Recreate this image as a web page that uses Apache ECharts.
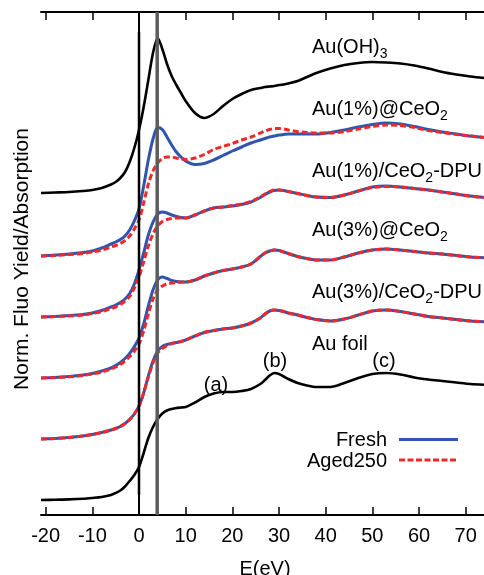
<!DOCTYPE html>
<html>
<head>
<meta charset="utf-8">
<script src="https://cdn.jsdelivr.net/npm/echarts@6/dist/echarts.min.js"></script>
<style>html,body{margin:0;padding:0;background:#fff;}#c{width:484px;height:575px;}</style>
</head>
<body>
<div id="c"></div>
<script>
// Energy grid (eV)
var energy = [-21,-18,-15,-12,-10,-8,-6,-5,-4,-3,-2,-1,0,1,2,3,4,5,6,7,8,9,10,12,14,16,18,20,22,24,26,27,28,29,30,31,32,34,36,38,41,44,47,50,53,56,59,62,65,68,71,75];
// Normalized spectra
var auOH3        = [0,0.005,0.01,0.02,0.03,0.05,0.085,0.11,0.15,0.21,0.31,0.45,0.63,0.86,1.13,1.40,1.55,1.44,1.29,1.17,1.08,1.00,0.92,0.80,0.75,0.79,0.87,0.94,0.99,1.03,1.05,1.06,1.065,1.07,1.08,1.085,1.095,1.12,1.16,1.20,1.245,1.28,1.30,1.31,1.305,1.295,1.275,1.245,1.21,1.185,1.165,1.145];
var au1At_fresh  = [0,0.01,0.02,0.035,0.05,0.08,0.12,0.14,0.165,0.20,0.26,0.35,0.47,0.70,0.96,1.17,1.285,1.265,1.19,1.11,1.04,0.99,0.95,0.915,0.925,0.96,1.005,1.05,1.09,1.13,1.16,1.175,1.19,1.20,1.21,1.215,1.22,1.22,1.22,1.22,1.235,1.26,1.29,1.315,1.33,1.32,1.295,1.265,1.24,1.22,1.20,1.18];
var au1At_aged   = [0,0.005,0.015,0.025,0.04,0.06,0.09,0.105,0.125,0.155,0.20,0.27,0.36,0.53,0.72,0.85,0.93,0.975,0.99,0.99,0.98,0.97,0.965,0.98,1.015,1.065,1.095,1.125,1.16,1.19,1.23,1.25,1.265,1.275,1.275,1.27,1.26,1.245,1.235,1.23,1.23,1.245,1.27,1.295,1.31,1.305,1.285,1.255,1.235,1.215,1.20,1.18];
var au1Dpu_fresh = [0,0.005,0.015,0.025,0.04,0.065,0.10,0.12,0.145,0.18,0.235,0.33,0.47,0.64,0.82,0.95,1.03,1.05,1.04,1.02,1.005,0.995,0.99,1.02,1.06,1.09,1.10,1.11,1.125,1.15,1.195,1.225,1.25,1.265,1.27,1.265,1.255,1.235,1.215,1.20,1.195,1.22,1.26,1.30,1.31,1.30,1.285,1.27,1.25,1.23,1.21,1.19];
var au1Dpu_aged  = [0,0.005,0.01,0.02,0.035,0.055,0.085,0.10,0.125,0.16,0.205,0.29,0.40,0.55,0.71,0.83,0.91,0.955,0.975,0.985,0.99,0.99,0.99,1.02,1.06,1.09,1.10,1.115,1.13,1.155,1.20,1.23,1.255,1.27,1.27,1.265,1.255,1.235,1.215,1.20,1.195,1.22,1.26,1.295,1.305,1.30,1.285,1.27,1.25,1.23,1.21,1.19];
var au3At_fresh  = [0,0.005,0.015,0.03,0.045,0.07,0.10,0.125,0.155,0.195,0.245,0.315,0.40,0.54,0.72,0.88,0.98,1.01,0.995,0.975,0.965,0.96,0.96,0.98,1.02,1.05,1.075,1.09,1.11,1.14,1.215,1.25,1.27,1.28,1.275,1.26,1.245,1.215,1.195,1.18,1.18,1.21,1.25,1.28,1.29,1.28,1.265,1.25,1.24,1.225,1.21,1.20];
var au3At_aged   = [0,0.005,0.012,0.025,0.04,0.06,0.09,0.11,0.135,0.17,0.215,0.27,0.34,0.47,0.64,0.79,0.88,0.92,0.94,0.95,0.955,0.96,0.96,0.98,1.02,1.05,1.075,1.09,1.11,1.14,1.215,1.25,1.27,1.28,1.275,1.26,1.245,1.215,1.195,1.18,1.18,1.21,1.25,1.28,1.29,1.28,1.265,1.25,1.24,1.225,1.21,1.20];
var au3Dpu_fresh = [0,0.005,0.015,0.03,0.045,0.065,0.09,0.105,0.125,0.155,0.195,0.25,0.33,0.46,0.63,0.78,0.88,0.925,0.945,0.955,0.965,0.975,0.99,1.03,1.065,1.085,1.10,1.11,1.13,1.16,1.21,1.25,1.28,1.29,1.285,1.275,1.26,1.24,1.215,1.195,1.18,1.20,1.24,1.28,1.29,1.275,1.25,1.225,1.21,1.195,1.18,1.17];
var au3Dpu_aged  = [0,0.005,0.015,0.03,0.045,0.065,0.09,0.105,0.125,0.155,0.195,0.25,0.33,0.46,0.62,0.76,0.86,0.905,0.935,0.955,0.965,0.975,0.99,1.03,1.065,1.085,1.10,1.11,1.13,1.16,1.21,1.25,1.28,1.29,1.285,1.275,1.26,1.24,1.215,1.195,1.18,1.20,1.24,1.28,1.29,1.275,1.25,1.225,1.21,1.195,1.18,1.17];
var auFoil       = [0,0.003,0.006,0.012,0.02,0.03,0.05,0.07,0.095,0.135,0.19,0.25,0.33,0.47,0.62,0.73,0.81,0.865,0.895,0.91,0.92,0.925,0.93,0.975,1.03,1.065,1.08,1.08,1.09,1.11,1.16,1.20,1.245,1.27,1.26,1.235,1.21,1.17,1.145,1.13,1.13,1.17,1.22,1.26,1.27,1.255,1.225,1.205,1.19,1.175,1.16,1.15];
// vertical offsets of the stacked spectra
var offsets = {auOH3:3.22, au1At:2.59, au1Dpu:1.98, au3At:1.37, au3Dpu:0.76, auFoil:0.15};
var xTicks = [-20,-10,0,10,20,30,40,50,60,70];
var edgeLine = 0;      // eV
var whiteLine = 3.9;   // eV

var FONT = '"Liberation Sans", Arial, Helvetica, sans-serif';
var BLUE = '#2f55ad', RED = '#f02828';

function pts(arr, off){ return energy.map(function(e,i){ return [e, arr[i] + off]; }); }
function base(arr, off, ls, z){ return {type:'line', data:pts(arr,off), smooth:0.3, symbol:'none', lineStyle:ls, z:z}; }
function blackS(arr, off){ return base(arr, off, {color:'#000', width:2.6}, 3); }
function blueS(arr, off){ return base(arr, off, {color:BLUE, width:3}, 3); }
function redS(arr, off){ return base(arr, off, {color:RED, width:3, type:[6,3]}, 4); }

var series = [
  blackS(auOH3, offsets.auOH3),
  blueS(au1At_fresh, offsets.au1At), redS(au1At_aged, offsets.au1At),
  blueS(au1Dpu_fresh, offsets.au1Dpu), redS(au1Dpu_aged, offsets.au1Dpu),
  blueS(au3At_fresh, offsets.au3At), redS(au3At_aged, offsets.au3At),
  blueS(au3Dpu_fresh, offsets.au3Dpu), redS(au3Dpu_aged, offsets.au3Dpu),
  blackS(auFoil, offsets.auFoil),
  {type:'line', data:[[edgeLine,0.2],[edgeLine,4.83]], symbol:'none', lineStyle:{color:'#000', width:2.5}, z:5},
  {type:'line', data:[[whiteLine,0],[whiteLine,5.03]], symbol:'none', lineStyle:{color:'#5c5c5c', width:3.5}, z:5}
];

function txt(x, y, text, rich, align, va){
  var st = {text:text, fill:'#000', fontSize:20, fontFamily:FONT, align:align||'left', verticalAlign:va||'top'};
  if (rich) st.rich = rich;
  return {type:'text', x:x, y:y, style:st, z:10};
}
var rich = {
  m:{fontSize:20, fontFamily:FONT, lineHeight:28, fill:'#000'},
  s:{fontSize:14, fontFamily:FONT, lineHeight:14, verticalAlign:'bottom', fill:'#000'}
};

var chart = echarts.init(document.getElementById('c'));
chart.setOption({
  animation:false,
  grid:{left:41, right:-5, top:12, bottom:60, outerBoundsMode:'none', containLabel:false},
  xAxis:[{
    type:'value', min:-21, max:75, position:'bottom',
    name:'E(eV)', nameLocation:'middle', nameGap:44,
    nameTextStyle:{fontSize:20, fontFamily:FONT, color:'#000'},
    axisLine:{show:true, lineStyle:{color:'#000', width:2}},
    axisTick:{show:true, inside:true, length:8, customValues:xTicks, lineStyle:{color:'#000', width:1.5}},
    axisLabel:{show:true, customValues:xTicks, margin:11, fontSize:20, fontFamily:FONT, color:'#000'},
    splitLine:{show:false}
  },{
    type:'value', min:-21, max:75, position:'top',
    axisLine:{show:true, lineStyle:{color:'#000', width:2}},
    axisTick:{show:true, inside:true, length:8, customValues:xTicks, lineStyle:{color:'#000', width:1.5}},
    axisLabel:{show:false},
    splitLine:{show:false}
  }],
  yAxis:{
    type:'value', min:0, max:5.03,
    axisLine:{show:true, lineStyle:{color:'#000', width:2}},
    axisTick:{show:false}, axisLabel:{show:false}, splitLine:{show:false}
  },
  series:series,
  graphic:[
    {type:'text', x:22, y:259, rotation:Math.PI/2, style:{text:'Norm. Fluo Yield/Absorption', fill:'#000', fontSize:21, fontFamily:FONT, align:'center', verticalAlign:'middle'}},
    txt(312, 33.5, '{m|Au(OH)}{s|3}', rich),
    txt(312, 95.5, '{m|Au(1%)@CeO}{s|2}', rich),
    txt(312, 157.5, '{m|Au(1%)/CeO}{s|2}{m|-DPU}', rich),
    txt(312, 216.5, '{m|Au(3%)@CeO}{s|2}', rich),
    txt(312, 278.5, '{m|Au(3%)/CeO}{s|2}{m|-DPU}', rich),
    txt(312, 344, 'Au foil', null, 'left', 'middle'),
    txt(216, 385, '(a)', null, 'center', 'middle'),
    txt(275, 361, '(b)', null, 'center', 'middle'),
    txt(384, 361, '(c)', null, 'center', 'middle'),
    txt(387, 440, 'Fresh', null, 'right', 'middle'),
    txt(387, 461, 'Aged250', null, 'right', 'middle'),
    {type:'line', shape:{x1:399, y1:439.5, x2:458, y2:439.5}, style:{stroke:BLUE, lineWidth:3}, z:10},
    {type:'line', shape:{x1:399, y1:460, x2:458, y2:460}, style:{stroke:RED, lineWidth:3, lineDash:[6,2.5]}, z:10}
  ]
});
</script>
</body>
</html>
